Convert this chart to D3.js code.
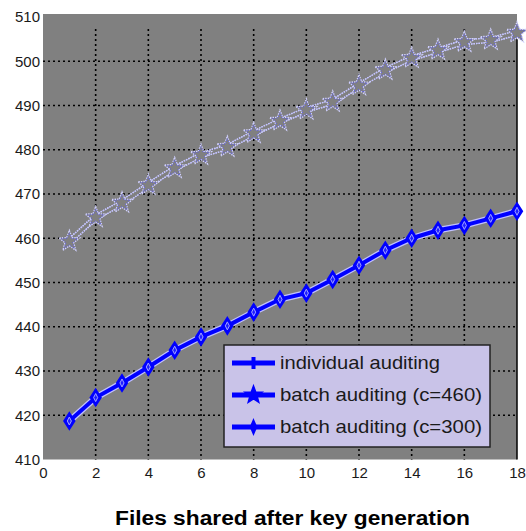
<!DOCTYPE html>
<html>
<head>
<meta charset="utf-8">
<script src="https://cdn.jsdelivr.net/npm/d3@7"></script>
<style>
  body { margin: 0; background: #fff; }
  svg { display: block; font-family: Arial, "Liberation Sans", sans-serif; }
</style>
</head>
<body>
<div id="chart"></div>
<script>
// data
const files = [1, 2, 3, 4, 5, 6, 7, 8, 9, 10, 11, 12, 13, 14, 15, 16, 17, 18];
const individual = [459.3, 464.7, 468, 472, 475.8, 478.8, 480.6, 483.7, 486.5, 489, 490.8, 494.5, 498, 500.7, 502.5, 504.3, 504.8, 506.4];
const batch460 = [459.3, 464.7, 468, 472, 475.8, 478.8, 480.6, 483.7, 486.5, 489, 490.8, 494.5, 498, 500.7, 502.5, 504.3, 504.8, 506.4];
const batch300 = [418.7, 424, 427.3, 430.9, 434.7, 437.7, 440.2, 443.3, 446.2, 447.6, 450.7, 453.9, 457.3, 460, 461.8, 462.9, 464.5, 466.1];
const xTicks = [0, 2, 4, 6, 8, 10, 12, 14, 16, 18];
const yTicks = [410, 420, 430, 440, 450, 460, 470, 480, 490, 500, 510];
const legendLabels = ["individual auditing", "batch auditing (c=460)", "batch auditing (c=300)"];
const legendWidths = [160, 202, 202];

const width = 526, height = 531;
const margin = {top: 16, right: 9, bottom: 72, left: 43};

const svg = d3.select("#chart").append("svg")
    .attr("width", width)
    .attr("height", height);

const x = d3.scaleLinear().domain([0, 18]).range([margin.left, width - margin.right]);
const y = d3.scaleLinear().domain([410, 510]).range([height - margin.bottom + 0.5, margin.top + 1]);

// plot background
svg.append("rect")
    .attr("x", x(0)).attr("y", margin.top - 2)
    .attr("width", x(18) - x(0)).attr("height", y(410) - margin.top + 2)
    .attr("fill", "#808080");

// dotted grid
const grid = svg.append("g")
    .attr("stroke", "#000")
    .attr("stroke-width", 1.6)
    .attr("stroke-dasharray", "2,3");
grid.selectAll(".gx")
  .data(xTicks.filter(d => d > 0 && d < 18))
  .join("line")
    .attr("x1", d => x(d)).attr("x2", d => x(d))
    .attr("y1", y(510) + 12).attr("y2", y(410));
grid.selectAll(".gy")
  .data(yTicks.filter(d => d > 410 && d < 510))
  .join("line")
    .attr("x1", x(0)).attr("x2", x(18))
    .attr("y1", d => y(d)).attr("y2", d => y(d));

// right border
svg.append("line")
    .attr("x1", x(18)).attr("x2", x(18))
    .attr("y1", y(505)).attr("y2", y(410))
    .attr("stroke", "#000").attr("stroke-width", 1.5);

// axes (tick labels only)
const xAxis = svg.append("g")
    .attr("transform", `translate(0,${y(410)})`)
    .call(d3.axisBottom(x).tickValues(xTicks).tickSize(0).tickPadding(8));
const yAxis = svg.append("g")
    .attr("transform", `translate(${x(0)},0)`)
    .call(d3.axisLeft(y).tickValues(yTicks).tickSize(0).tickPadding(3));
[xAxis, yAxis].forEach(a => {
  a.select(".domain").remove();
  a.selectAll("text")
      .attr("font-size", 15)
      .attr("fill", "#1a1a1a")
      .attr("font-family", "Arial, 'Liberation Sans', sans-serif");
});

const line = d3.line().x((d, i) => x(files[i])).y(d => y(d));

// star shape (outer radius r)
function starPath(r) {
  const pts = [];
  for (let k = 0; k < 10; k++) {
    const a = -Math.PI / 2 + k * Math.PI / 5;
    const rr = k % 2 ? r * 0.42 : r;
    pts.push([rr * Math.cos(a), rr * Math.sin(a)]);
  }
  return "M" + pts.map(p => p.join(",")).join("L") + "Z";
}
function diamondPath(w, h) {
  return `M0,${-h}L${w},0L0,${h}L${-w},0Z`;
}

// individual auditing + batch c=460 (hollow dotted outlines)
[individual, batch460].forEach(series => {
  svg.append("path")
      .datum(series)
      .attr("d", line)
      .attr("fill", "none")
      .attr("stroke", "#c4c4ff")
      .attr("stroke-width", 6)
      .attr("stroke-dasharray", "1.5,1");
  svg.append("path")
      .datum(series)
      .attr("d", line)
      .attr("fill", "none")
      .attr("stroke", "#808080")
      .attr("stroke-width", 3);
});
svg.append("g").selectAll("path")
  .data(batch460)
  .join("path")
    .attr("transform", (d, i) => `translate(${x(files[i])},${y(d)})`)
    .attr("d", starPath(11))
    .attr("fill", "#808080")
    .attr("stroke", "#d0d0ff")
    .attr("stroke-width", 1.3)
    .attr("stroke-dasharray", "1.5,1");
svg.append("g").selectAll("path")
  .data(batch460)
  .join("path")
    .attr("transform", (d, i) => `translate(${x(files[i])},${y(d)})`)
    .attr("d", starPath(8.5))
    .attr("fill", "none")
    .attr("stroke", "#5050ff")
    .attr("stroke-width", 0.8)
    .attr("stroke-dasharray", "1,1.5");

// batch c=300 (solid blue with diamonds)
svg.append("path")
    .datum(batch300)
    .attr("d", line)
    .attr("fill", "none")
    .attr("stroke", "#c0c0ff")
    .attr("stroke-width", 6.5);
svg.append("path")
    .datum(batch300)
    .attr("d", line)
    .attr("fill", "none")
    .attr("stroke", "#0000ff")
    .attr("stroke-width", 4);
svg.append("g").selectAll("path")
  .data(batch300)
  .join("path")
    .attr("transform", (d, i) => `translate(${x(files[i])},${y(d)})`)
    .attr("d", diamondPath(4.5, 7))
    .attr("fill", "#2020ff")
    .attr("stroke", "#0000ff")
    .attr("stroke-width", 3);
svg.append("g").selectAll("path")
  .data(batch300)
  .join("path")
    .attr("transform", (d, i) => `translate(${x(files[i])},${y(d)})`)
    .attr("d", diamondPath(2, 4))
    .attr("fill", "none")
    .attr("stroke", "#a0a0ff")
    .attr("stroke-width", 1);

// legend
const lg = svg.append("g").attr("transform", "translate(224,345)");
lg.append("rect")
    .attr("width", 266).attr("height", 102)
    .attr("fill", "#c9c3e8")
    .attr("stroke", "#222").attr("stroke-width", 1.5);
const rows = lg.selectAll(".row")
  .data(legendLabels)
  .join("g")
    .attr("transform", (d, i) => `translate(0,${18 + i * 32})`);
rows.append("line")
    .attr("x1", 8).attr("x2", 51)
    .attr("stroke", "#0000ff").attr("stroke-width", 5);
rows.append("path")
    .attr("transform", "translate(29.5,0)")
    .attr("d", (d, i) => i === 0 ? "M0,-6V6" : i === 1 ? starPath(9) : diamondPath(3, 7))
    .attr("fill", "#0000ff")
    .attr("stroke", "#0000ff")
    .attr("stroke-width", (d, i) => i === 0 ? 4 : 1.5);
rows.append("text")
    .attr("x", 56).attr("dy", "0.35em")
    .attr("font-size", 18.5)
    .attr("fill", "#1a1a1a")
    .attr("textLength", (d, i) => legendWidths[i])
    .attr("lengthAdjust", "spacingAndGlyphs")
    .text(d => d);

// x axis title
svg.append("text")
    .attr("x", 115).attr("y", 525)
    .attr("font-size", 20)
    .attr("font-weight", "bold")
    .attr("fill", "#000")
    .attr("textLength", 355)
    .attr("lengthAdjust", "spacingAndGlyphs")
    .text("Files shared after key generation");
</script>
</body>
</html>
